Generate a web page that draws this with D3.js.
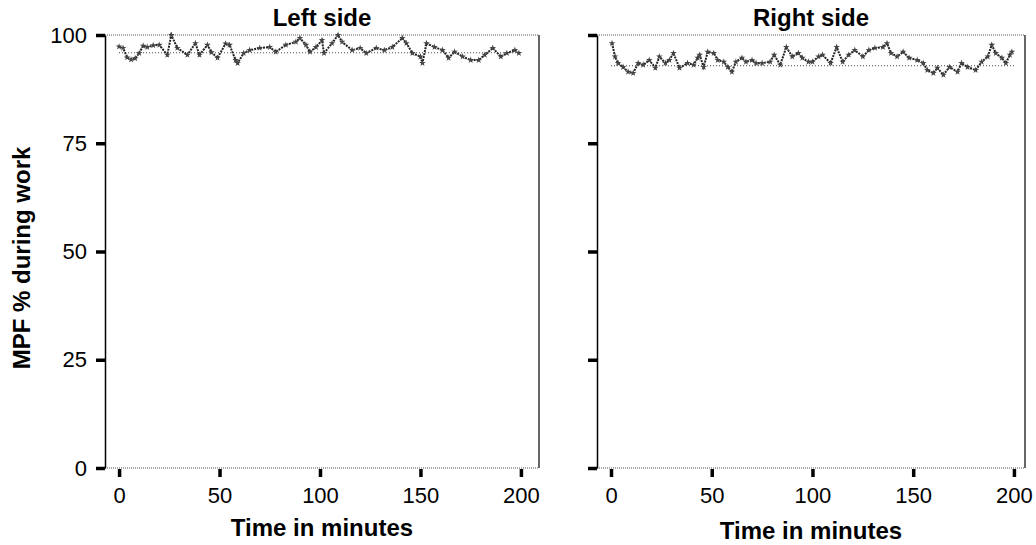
<!DOCTYPE html>
<html>
<head>
<meta charset="utf-8">
<script src="https://cdn.jsdelivr.net/npm/d3@7"></script>
<style>
  body { margin: 0; background: #fff; }
  svg { display: block; font-family: "Liberation Sans", Arial, sans-serif; }
</style>
</head>
<body>
<div id="chart"></div>
<script>
// Data (minutes, MPF %)
const leftMinutes = [0, 2, 4, 6, 8, 10, 12, 14, 17, 20, 24, 26, 29, 34, 38, 40, 44, 46, 49, 53, 55, 58, 59, 62, 65, 70, 75, 78, 83, 88, 90, 93, 95, 98, 101, 102, 106, 109, 111, 116, 120, 123, 128, 132, 136, 141, 143, 146, 150, 151, 153, 157, 161, 164, 167, 171, 175, 179, 182, 186, 190, 193, 197, 199];
const leftMPF = [97.3, 97.0, 94.8, 94.3, 94.6, 95.8, 97.5, 97.2, 97.6, 97.7, 95.4, 100, 97.0, 95.4, 98.1, 95.4, 97.7, 96.0, 94.7, 98.0, 97.7, 94.2, 93.5, 95.8, 96.5, 97.0, 97.2, 96.1, 97.7, 98.4, 99.3, 97.7, 96.1, 97.2, 98.8, 95.8, 98.1, 100, 98.4, 96.5, 97.0, 95.8, 97.0, 96.5, 97.2, 99.3, 98.1, 95.8, 95.0, 93.5, 98.1, 97.2, 96.5, 94.7, 96.1, 95.0, 94.2, 94.2, 95.4, 97.0, 95.0, 95.8, 96.5, 95.8];
const leftRef = 95.9;

const rightMinutes = [0.5, 2, 3.5, 6, 8.5, 11, 13.5, 16, 19, 22, 24, 27, 29, 31, 34, 38, 41, 43, 44, 46, 48, 51, 53, 56, 58, 60, 62, 65, 67, 70, 72, 75, 79, 81, 84, 87, 90, 93, 95, 98, 100, 103, 105, 109, 112, 115, 118, 121, 125, 128, 131, 135, 137, 139, 142, 145, 148, 152, 155, 157, 160, 162, 165, 168, 172, 174, 177, 181, 184, 187, 189, 191, 194, 196, 198, 199];
const rightMPF = [98.1, 95.0, 93.5, 92.6, 91.5, 91.2, 93.5, 93.1, 94.2, 92.4, 95.0, 93.5, 94.2, 95.8, 92.4, 93.5, 93.1, 94.7, 95.4, 92.6, 96.1, 95.8, 94.2, 93.8, 92.6, 91.5, 93.8, 94.7, 93.8, 94.2, 93.5, 93.5, 93.8, 95.4, 93.1, 97.2, 95.0, 95.8, 94.7, 93.8, 93.8, 95.0, 95.4, 93.5, 97.2, 93.8, 95.4, 96.5, 95.0, 96.5, 97.0, 97.2, 98.1, 95.8, 95.0, 96.1, 94.7, 94.2, 93.5, 91.9, 91.2, 92.4, 90.8, 92.6, 91.5, 93.5, 92.6, 91.9, 93.8, 95.0, 97.7, 95.8, 94.7, 93.5, 95.4, 96.1];
const rightRef = 92.9;

const xTicks = [0, 50, 100, 150, 200];
const yTicks = [0, 25, 50, 75, 100];

const width = 1036;
const height = 545;
const plotTop = 35, plotBottom = 468;
const tickFont = "22px";
const titleFont = "24px";

const svg = d3.select("#chart").append("svg")
  .attr("width", width)
  .attr("height", height)
  .attr("viewBox", [0, 0, width, height]);

const y = d3.scaleLinear().domain([0, 100]).range([plotBottom, plotTop]);

const panels = [
  { title: "Left side", minutes: leftMinutes, mpf: leftMPF, ref: leftRef,
    left: 105, right: 539, domain: [-7, 209], labels: true, xTitleY: 536 },
  { title: "Right side", minutes: rightMinutes, mpf: rightMPF, ref: rightRef,
    left: 597, right: 1025, domain: [-6.95, 205.5], labels: false, xTitleY: 539 }
];

panels.forEach(p => {
  const x = d3.scaleLinear().domain(p.domain).range([p.left, p.right]);
  const g = svg.append("g");
  const mid = (p.left + p.right) / 2;

  // top and bottom dotted edges
  g.selectAll(".edge")
    .data([100, 0])
    .join("line")
    .attr("x1", p.left).attr("x2", p.right)
    .attr("y1", d => y(d)).attr("y2", d => y(d))
    .attr("stroke", "#555")
    .attr("stroke-width", 1)
    .attr("stroke-dasharray", "1,1");

  // right border
  g.append("line")
    .attr("x1", p.right).attr("x2", p.right)
    .attr("y1", plotTop).attr("y2", plotBottom)
    .attr("stroke", "#000").attr("stroke-width", 1.2);

  // y axis
  g.append("g")
    .attr("transform", `translate(${p.left},0)`)
    .call(d3.axisLeft(y).tickValues(yTicks).tickSize(9).tickSizeOuter(0).tickPadding(9)
      .tickFormat(p.labels ? d3.format("d") : () => ""))
    .call(a => a.select(".domain").attr("stroke-width", 1.5))
    .call(a => a.selectAll(".tick line").attr("stroke-width", 3.5))
    .call(a => a.selectAll(".tick text").attr("font-size", tickFont).attr("fill", "#000"));

  // x axis (ticks hang below the frame)
  g.append("g")
    .attr("transform", `translate(0,${plotBottom + 1})`)
    .call(d3.axisBottom(x).tickValues(xTicks).tickSize(8).tickSizeOuter(0).tickPadding(10))
    .call(a => a.select(".domain").remove())
    .call(a => a.selectAll(".tick line").attr("stroke-width", 3.5))
    .call(a => a.selectAll(".tick text").attr("font-size", tickFont).attr("fill", "#000"));

  // reference line
  g.append("line")
    .attr("x1", x(0)).attr("x2", x(200))
    .attr("y1", y(p.ref)).attr("y2", y(p.ref))
    .attr("stroke", "#444").attr("stroke-width", 1)
    .attr("stroke-dasharray", "1,2");

  // the trace: speckled dark line with star marks
  const line = d3.line().x((d, i) => x(p.minutes[i])).y(d => y(d));
  g.append("path")
    .datum(p.mpf)
    .attr("fill", "none")
    .attr("stroke", "#222")
    .attr("stroke-width", 2)
    .attr("stroke-dasharray", "2,1")
    .attr("d", line);

  g.append("g")
    .selectAll("path")
    .data(p.mpf)
    .join("path")
    .attr("transform", (d, i) => `translate(${x(p.minutes[i])},${y(d)})`)
    .attr("d", d3.symbol(d3.symbolStar, 14))
    .attr("fill", "#444");

  // titles
  g.append("text")
    .attr("x", mid).attr("y", 26)
    .attr("text-anchor", "middle")
    .attr("font-size", titleFont).attr("font-weight", "bold")
    .text(p.title);

  g.append("text")
    .attr("x", mid).attr("y", p.xTitleY)
    .attr("text-anchor", "middle")
    .attr("font-size", titleFont).attr("font-weight", "bold")
    .text("Time in minutes");
});

svg.append("text")
  .attr("transform", `translate(30,258) rotate(-90)`)
  .attr("text-anchor", "middle")
  .attr("font-size", titleFont).attr("font-weight", "bold")
  .text("MPF % during work");
</script>
</body>
</html>
